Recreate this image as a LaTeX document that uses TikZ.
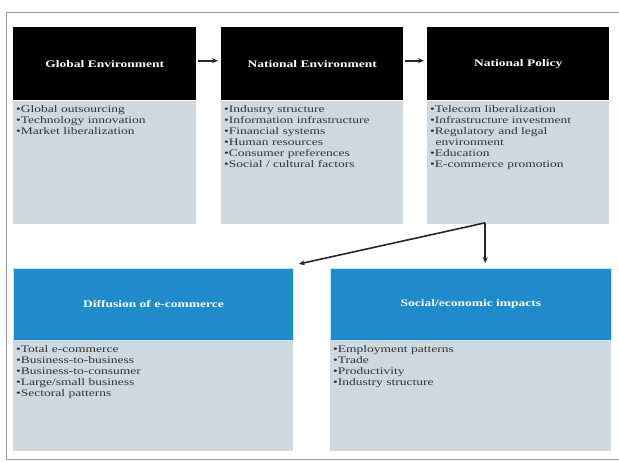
\documentclass[tikz,border=0pt]{standalone}
\usepackage{fontspec}
\usepackage{graphicx}
\setmainfont{Liberation Serif}
\usetikzlibrary{positioning,calc,arrows.meta}

\definecolor{listgray}{HTML}{CDD8E1}
\definecolor{headblue}{HTML}{1F8BCB}
\definecolor{framegray}{HTML}{9A9A9A}
\definecolor{listtext}{HTML}{333333}

% widened serif text, as in the reference
\newcommand{\wide}[1]{\scalebox{1.35}[1]{#1}}

\tikzset{
  head/.style={fill=black, text=white, inner sep=0, anchor=north west,
    font=\bfseries\fontsize{10}{11}\selectfont},
  bluehead/.style={head, fill=headblue, draw=cyan!25, line width=0.8pt},
  list/.style={fill=listgray, text=listtext, inner sep=0, anchor=north west,
    font=\fontsize{10}{11}\selectfont},
  flow/.style={-{Stealth[length=6pt,width=5pt]}, line width=1.6pt, black!85}
}

% list box: width, height, items
\newcommand{\boxlist}[3]{\parbox[t][#2pt][t]{#1pt}{\vspace*{5pt}\hspace*{3pt}\wide{\parbox[t]{\dimexpr(#1pt-5pt)*20/27\relax}{\raggedright#3}}}}

\begin{document}
\begin{tikzpicture}[x=1pt,y=-1pt]
\useasboundingbox (0,0) rectangle (619,461);
\fill[white] (0,0) rectangle (619,461);
\draw[framegray, line width=1.2pt] (630,12.5) -- (6.5,12.5) -- (6.5,459.5) -- (630,459.5);

% top row
\node[head, minimum width=183, minimum height=73] (gh) at (13,27) {\wide{Global Environment}};
\node[list] (gl) at (gh.south west)
  {\boxlist{183}{123}{•Global outsourcing\\•Technology innovation\\•Market liberalization}};

\node[head, minimum width=182, minimum height=73] (eh) at (221,27) {\wide{National Environment}};
\node[list] (el) at (eh.south west)
  {\boxlist{182}{123}{•Industry structure\\•Information infrastructure\\•Financial systems\\•Human resources\\•Consumer preferences\\•Social / cultural factors}};

\node[head, minimum width=182, minimum height=73] (ph) at (427,27) {\wide{National Policy}};
\node[list] (pl) at (ph.south west)
  {\boxlist{182}{123}{•Telecom liberalization\\•Infrastructure investment\\•Regulatory and legal\\\hspace*{4pt}environment\\•Education\\•E-commerce promotion}};

% bottom row
\node[bluehead, minimum width=280, minimum height=72] (dh) at (13,268) {\wide{Diffusion of e-commerce}};
\node[list] (dl) at (dh.south west)
  {\boxlist{280}{110}{•Total e-commerce\\•Business-to-business\\•Business-to-consumer\\•Large/small business\\•Sectoral patterns}};

\node[bluehead, minimum width=281, minimum height=72] (sh) at (330,268) {\wide{Social/economic impacts}};
\node[list] (sl) at (sh.south west)
  {\boxlist{281}{110}{•Employment patterns\\•Trade\\•Productivity\\•Industry structure}};

% arrows
\draw[flow, shorten <=2pt, shorten >=3pt] ($(gh.east)+(0,-3)$) -- ($(eh.west)+(0,-3)$);
\draw[flow, shorten <=2pt, shorten >=3pt] ($(eh.east)+(0,-3)$) -- ($(ph.west)+(0,-3)$);

\coordinate (split) at ($(pl.south)+(-33,-1)$);
\coordinate (dtip) at ($(dh.north east)+(5,-4)$);
\draw[flow] (split) -- ($(split |- sh.north)+(0,-5)$);
\draw[flow] (split) -- (dtip);
\end{tikzpicture}
\end{document}
